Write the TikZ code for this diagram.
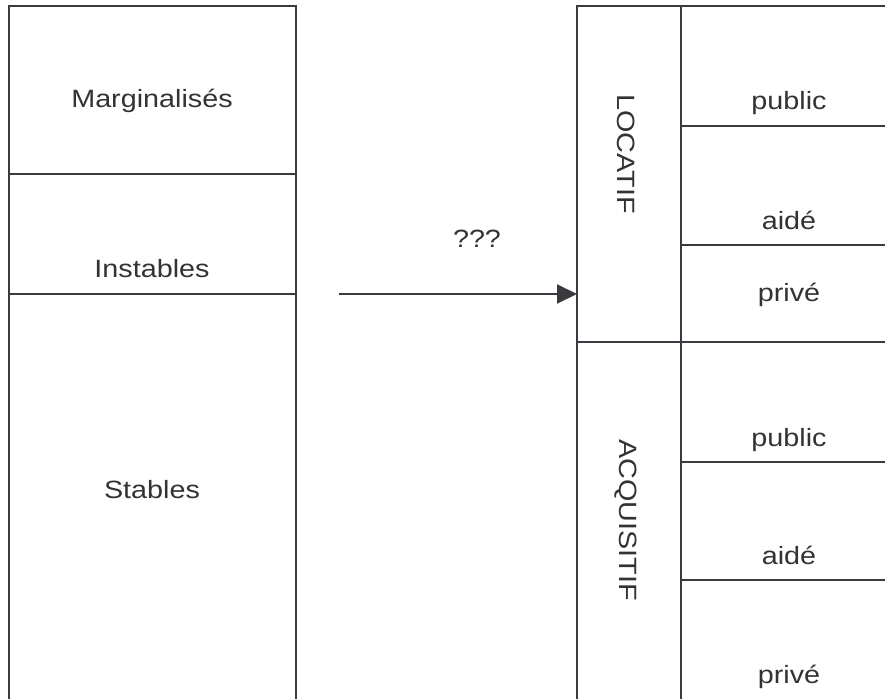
\documentclass[tikz,border=0pt]{standalone}
\usepackage{fontspec}
\setmainfont{Liberation Sans}[FakeStretch=1.15]
\usetikzlibrary{arrows.meta}
\definecolor{linec}{HTML}{3A3A40}
\definecolor{textc}{HTML}{333333}
\tikzset{
  cell/.style={draw=linec, line width=2pt, rectangle, anchor=north west, inner sep=0pt, outer sep=0pt},
  lbl/.style={text=textc, font=\fontsize{25}{30}\selectfont, anchor=base, inner sep=0pt},
  vlbl/.style={text=textc, font=\fontsize{25}{30}\selectfont, rotate=-90, inner sep=0pt},
  arr/.style={draw=linec, line width=2pt, -{Triangle[length=20pt,width=19pt]}}
}
\begin{document}
\begin{tikzpicture}[x=1pt,y=-1pt]
\useasboundingbox (0,0) rectangle (885,698);
\fill[white] (0,0) rectangle (885,698);
\begin{scope}
\clip (0,0) rectangle (885,698);
% left column
\node[cell, minimum width=287pt, minimum height=168pt] (marg) at (9,6) {};
\node[cell, minimum width=287pt, minimum height=120pt] (inst) at (9,174) {};
\node[cell, minimum width=287pt, minimum height=420pt] (stab) at (9,294) {};
% right: tenure column
\node[cell, minimum width=104pt, minimum height=336pt] (loc) at (577,6) {};
\node[cell, minimum width=104pt, minimum height=372pt] (acq) at (577,342) {};
% right: sector column
\node[cell, minimum width=230pt, minimum height=120pt] (lpub) at (681,6) {};
\node[cell, minimum width=230pt, minimum height=119pt] (laid) at (681,126) {};
\node[cell, minimum width=230pt, minimum height=97pt] (lpri) at (681,245) {};
\node[cell, minimum width=230pt, minimum height=120pt] (apub) at (681,342) {};
\node[cell, minimum width=230pt, minimum height=118pt] (aaid) at (681,462) {};
\node[cell, minimum width=230pt, minimum height=134pt] (apri) at (681,580) {};
\end{scope}
% labels
\node[lbl] (tmarg) at (152,107) {Marginalisés};
\node[lbl] (tinst) at (152,277) {Instables};
\node[lbl] (tstab) at (152,498) {Stables};
\node[lbl] (tq) at (477,247) {???};
\node[vlbl] (tloc) at (626,154) {LOCATIF};
\node[vlbl] (tacq) at (626,520) {ACQUISITIF};
\node[lbl] (tlpub) at (789,110) {public};
\node[lbl] (tlaid) at (789,229) {aidé};
\node[lbl] (tlpri) at (789,301) {privé};
\node[lbl] (tapub) at (789,446) {public};
\node[lbl] (taaid) at (789,564) {aidé};
\node[lbl] (tapri) at (789,683) {privé};
% arrow
\coordinate (astart) at (339,294);
\draw[arr] (astart) -- (astart -| loc.west);
\end{tikzpicture}
\end{document}
